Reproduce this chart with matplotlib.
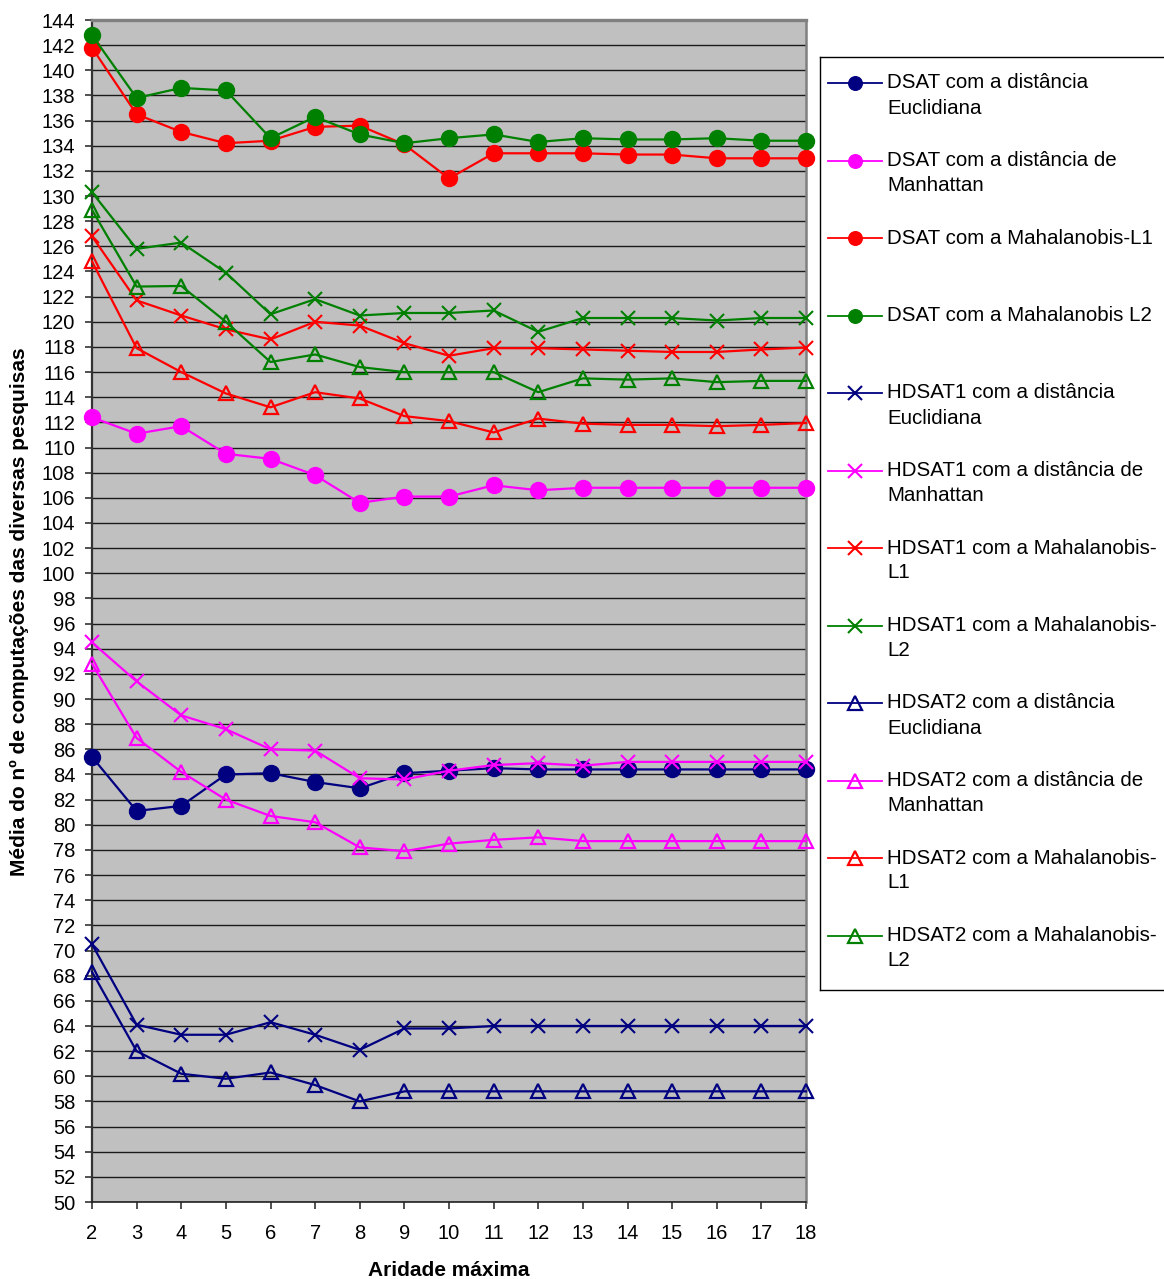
import matplotlib
matplotlib.use("Agg")
import matplotlib.pyplot as plt
from matplotlib.lines import Line2D

plt.rcParams['font.family'] = ['Liberation Sans', 'DejaVu Sans']

# Maximum arity values (x axis)
aridade = [2, 3, 4, 5, 6, 7, 8, 9, 10, 11, 12, 13, 14, 15, 16, 17, 18]

# Average number of distance computations per search
dsat_euclid = [85.4, 81.1, 81.5, 84.0, 84.1, 83.4, 82.9, 84.1, 84.3, 84.5, 84.4, 84.4, 84.4, 84.4, 84.4, 84.4, 84.4]
dsat_manhattan = [112.4, 111.1, 111.7, 109.5, 109.1, 107.8, 105.6, 106.1, 106.1, 107.0, 106.6, 106.8, 106.8, 106.8, 106.8, 106.8, 106.8]
dsat_mahal_l1 = [141.8, 136.5, 135.1, 134.2, 134.4, 135.5, 135.6, 134.1, 131.4, 133.4, 133.4, 133.4, 133.3, 133.3, 133.0, 133.0, 133.0]
dsat_mahal_l2 = [142.8, 137.8, 138.6, 138.4, 134.6, 136.3, 134.9, 134.2, 134.6, 134.9, 134.3, 134.6, 134.5, 134.5, 134.6, 134.4, 134.4]

hdsat1_euclid = [70.5, 64.1, 63.3, 63.3, 64.3, 63.3, 62.1, 63.8, 63.8, 64.0, 64.0, 64.0, 64.0, 64.0, 64.0, 64.0, 64.0]
hdsat1_manhattan = [94.5, 91.4, 88.7, 87.6, 86.0, 85.9, 83.7, 83.6, 84.3, 84.75, 84.9, 84.7, 85.0, 85.0, 85.0, 85.0, 85.0]
hdsat1_mahal_l1 = [126.8, 121.7, 120.5, 119.4, 118.6, 120.0, 119.7, 118.3, 117.3, 117.9, 117.9, 117.8, 117.7, 117.6, 117.6, 117.8, 117.95]
hdsat1_mahal_l2 = [130.3, 125.8, 126.3, 123.9, 120.6, 121.8, 120.5, 120.7, 120.7, 120.9, 119.2, 120.3, 120.3, 120.3, 120.1, 120.3, 120.3]

hdsat2_euclid = [68.3, 62.0, 60.2, 59.8, 60.3, 59.3, 58.0, 58.8, 58.8, 58.8, 58.8, 58.8, 58.8, 58.8, 58.8, 58.8, 58.8]
hdsat2_manhattan = [92.8, 86.9, 84.2, 82.0, 80.7, 80.2, 78.2, 77.9, 78.5, 78.8, 79.0, 78.7, 78.7, 78.7, 78.7, 78.7, 78.7]
hdsat2_mahal_l1 = [124.8, 117.9, 116.0, 114.3, 113.2, 114.4, 113.9, 112.5, 112.1, 111.2, 112.3, 111.9, 111.8, 111.8, 111.7, 111.8, 111.95]
hdsat2_mahal_l2 = [128.9, 122.8, 122.85, 120.0, 116.8, 117.4, 116.4, 116.0, 116.0, 116.0, 114.4, 115.5, 115.4, 115.5, 115.2, 115.3, 115.3]

series_labels = [
    "DSAT com a distância\nEuclidiana",
    "DSAT com a distância de\nManhattan",
    "DSAT com a Mahalanobis-L1",
    "DSAT com a Mahalanobis L2",
    "HDSAT1 com a distância\nEuclidiana",
    "HDSAT1 com a distância de\nManhattan",
    "HDSAT1 com a Mahalanobis-\nL1",
    "HDSAT1 com a Mahalanobis-\nL2",
    "HDSAT2 com a distância\nEuclidiana",
    "HDSAT2 com a distância de\nManhattan",
    "HDSAT2 com a Mahalanobis-\nL1",
    "HDSAT2 com a Mahalanobis-\nL2",
]
series_values = [
    dsat_euclid, dsat_manhattan, dsat_mahal_l1, dsat_mahal_l2,
    hdsat1_euclid, hdsat1_manhattan, hdsat1_mahal_l1, hdsat1_mahal_l2,
    hdsat2_euclid, hdsat2_manhattan, hdsat2_mahal_l1, hdsat2_mahal_l2,
]

NAVY, MAGENTA, RED, GREEN = "#000080", "#FF00FF", "#FF0000", "#008000"
colors = [NAVY, MAGENTA, RED, GREEN] * 3
markers = ["o"] * 4 + ["x"] * 4 + ["^"] * 4

W, H = 1164, 1279
fig = plt.figure(figsize=(W / 100, H / 100), dpi=100)
fig.patch.set_facecolor("white")

ax = fig.add_axes([92 / W, 1 - 1202 / H, (806 - 92) / W, (1202 - 20) / H])
ax.set_facecolor("#C0C0C0")


def style_kwargs(marker, color):
    if marker == "o":
        return dict(marker="o", markersize=11.5, markerfacecolor=color,
                    markeredgecolor=color, markeredgewidth=1.0)
    if marker == "x":
        return dict(marker="x", markersize=10, markeredgecolor=color,
                    markeredgewidth=1.5)
    return dict(marker="^", markersize=9.5, markerfacecolor="none",
                markeredgecolor=color, markeredgewidth=1.6)


for vals, col, mk in zip(series_values, colors, markers):
    ax.plot(aridade, vals, color=col, linewidth=1.6, clip_on=False, zorder=3,
            **style_kwargs(mk, col))

ax.set_xlim(2, 18)
ax.set_ylim(50, 144)
ax.set_xticks(aridade)
ax.set_yticks(range(50, 145, 2))
ax.yaxis.grid(True, color="#1a1a1a", linewidth=1.0)
ax.set_axisbelow(True)

ax.tick_params(axis="y", direction="out", length=5, width=1.2, pad=7,
               labelsize=14.5, color="#333333")
ax.tick_params(axis="x", direction="out", length=5, width=1.2, pad=11,
               labelsize=14.5, color="#333333")

ax.spines["top"].set_color("#808080")
ax.spines["top"].set_linewidth(2.4)
ax.spines["right"].set_color("#808080")
ax.spines["right"].set_linewidth(1.8)
ax.spines["left"].set_color("#333333")
ax.spines["left"].set_linewidth(1.6)
ax.spines["bottom"].set_color("#222222")
ax.spines["bottom"].set_linewidth(1.2)

fig.text(449 / W, 1 - 1270 / H, "Aridade máxima", ha="center", va="center",
         fontsize=15, fontweight="bold")
fig.text(19 / W, 1 - 612 / H, "Média do nº de computações das diversas pesquisas",
         ha="center", va="center", rotation=90, fontsize=15, fontweight="bold")

# Legend panel, built by hand so each key lines up with the first line of text
lx0, ly0, ly1 = 820, 57, 990
lax = fig.add_axes([lx0 / W, 1 - ly1 / H, 360 / W, (ly1 - ly0) / H])
lax.set_xlim(0, 360)
lax.set_ylim(ly1 - ly0, 0)
lax.set_xticks([])
lax.set_yticks([])
lax.set_facecolor("white")
for s in lax.spines.values():
    s.set_color("black")
    s.set_linewidth(1.0)

row_step = 77.5
for i, (lab, col, mk) in enumerate(zip(series_labels, colors, markers)):
    y = 26 + i * row_step
    lax.add_line(Line2D([8, 62], [y, y], color=col, linewidth=1.3))
    kw = style_kwargs(mk, col)
    kw["markersize"] = kw["markersize"] * (0.85 if mk == "o" else 1.0)
    lax.add_line(Line2D([35], [y], color=col, linestyle="none", **kw))
    for j, line in enumerate(lab.split("\n")):
        lax.text(67, y + j * 25, line, ha="left", va="center", fontsize=14.8)

fig.savefig("out.png", dpi=100, facecolor="white")
